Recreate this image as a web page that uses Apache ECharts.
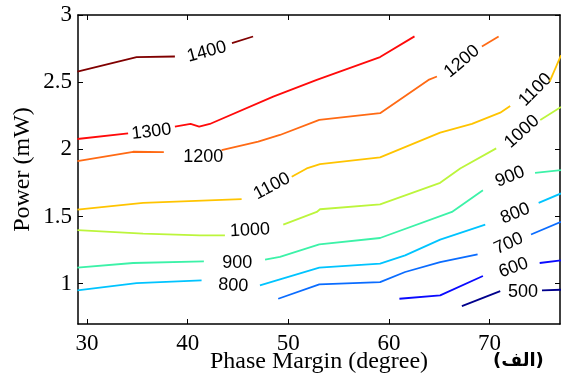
<!DOCTYPE html>
<html>
<head>
<meta charset="utf-8">
<script src="https://cdn.jsdelivr.net/npm/echarts@6/dist/echarts.min.js"></script>
<style>html,body{margin:0;padding:0;background:#fff}#c{width:561px;height:374px}</style>
</head>
<body>
<div id="c"></div>
<script>
// Contour levels and colours
var levels = [500, 600, 700, 800, 900, 1000, 1100, 1200, 1300, 1400];
var levelColors = ['#00008c', '#0a0aff', '#0a6cff', '#00c4ff', '#3cf2a8', '#bcf53c', '#ffc400', '#ff6a14', '#ff0a0a', '#800000'];

// Contour lines (x: phase margin, y: power); null = gap for inline label
var c500 = [[67.25,0.833],[71.06,0.945],null,[75.21,0.950],[77.1,0.955]];
var c600 = [[61.04,0.888],[65.09,0.913],[69.34,1.057],null,[74.98,1.154],[77.1,1.174]];
var c700 = [[49.0,0.888],[53.08,0.995],[59.12,1.012],[61.61,1.087],[65.09,1.161],[68.81,1.219],null,[74.12,1.366],[77.1,1.460]];
var c800 = [[29.04,0.950],[34.92,1.004],[41.38,1.025],null,[47.18,0.987],[49.17,1.032],[53.08,1.119],[59.12,1.149],[61.61,1.211],[65.09,1.328],[69.57,1.440],null,[74.88,1.601],[77.1,1.672]];
var c900 = [[29.04,1.119],[34.58,1.154],[41.61,1.166],null,[47.69,1.179],[49.17,1.199],[53.08,1.293],[59.12,1.340],[66.26,1.534],[69.34,1.696],null,[74.52,1.825],[77.1,1.846]];
var c1000 = [[29.04,1.398],[35.57,1.373],[41.21,1.360],[43.7,1.360],null,[49.5,1.440],[52.83,1.534],[53.15,1.554],[59.12,1.590],[65.09,1.751],[67.08,1.858],[70.66,2.007],null,[75.04,2.219],[77.1,2.315]];
var c1100 = [[29.04,1.552],[35.57,1.601],[45.36,1.629],null,[50.34,1.796],[51.83,1.858],[53.15,1.890],[59.12,1.940],[65.09,2.124],[68.25,2.189],[71.06,2.273],[72.05,2.323],null,[75.97,2.504],[77.1,2.700]];
var c1200 = [[29.04,1.913],[34.58,1.982],[37.63,1.980],null,[43.37,1.995],[47.01,2.057],[49.17,2.107],[53.08,2.219],[59.12,2.269],[63.93,2.517],[64.77,2.542],null,[69.24,2.766],[70.9,2.840]];
var c1300 = [[29.04,2.077],[34.08,2.119],null,[38.73,2.169],[40.29,2.189],[41.14,2.169],[42.2,2.189],[48.5,2.393],[52.83,2.517],[59.12,2.687],[62.54,2.841]];
var c1400 = [[29.04,2.579],[34.92,2.687],[38.73,2.691],null,[44.4,2.790],[46.5,2.840]];
var contours = [c500, c600, c700, c800, c900, c1000, c1100, c1200, c1300, c1400];

// Inline contour labels: [x, y, text]
var labelPoints = [
  [73.32,0.937,'500'],
  [72.39,1.119,'600'],
  [71.90,1.299,'700'],
  [44.53,0.987,'800'],
  [72.56,1.522,'800'],
  [44.93,1.157,'900'],
  [72.03,1.796,'900'],
  [46.20,1.398,'1000'],
  [73.22,2.131,'1000'],
  [48.38,1.726,'1100'],
  [74.55,2.443,'1100'],
  [41.54,1.945,'1200'],
  [67.25,2.654,'1200'],
  [36.40,2.131,'1300'],
  [41.90,2.726,'1400']
];
var labelAngles = [0, 20, 25, -3, 22, 0, 22, 3, 42, 28, 45, 0, 40, 7, 15];

var xTicks = [30, 40, 50, 60, 70];
var yTicks = [1, 1.5, 2, 2.5, 3];

var series = [];
contours.forEach(function (pts, i) {
  var seg = [];
  var flush = function () {
    if (seg.length > 1) {
      series.push({
        type: 'line', data: seg, showSymbol: false, symbol: 'none',
        lineStyle: { color: levelColors[i], width: 1.8 }, animation: false, silent: true
      });
    }
    seg = [];
  };
  pts.forEach(function (p) { if (p === null) flush(); else seg.push(p); });
  flush();
});
labelPoints.forEach(function (lp, k) {
  series.push({
    type: 'scatter', data: [[lp[0], lp[1]]], symbolSize: 0, animation: false, silent: true,
    itemStyle: { opacity: 1, color: '#000' },
    label: {
      show: true, position: 'inside', formatter: lp[2], rotate: labelAngles[k],
      color: '#000', opacity: 1, fontSize: 18, fontFamily: 'Liberation Sans',
      textBorderWidth: 0, textShadowBlur: 0
    }
  });
});

var tickFont = { color: '#000', fontSize: 23, fontFamily: 'Liberation Serif' };
var axisLine = { show: true, lineStyle: { color: '#000', width: 1.5 } };

var chart = echarts.init(document.getElementById('c'), null, { renderer: 'canvas' });
chart.setOption({
  backgroundColor: '#fff',
  animation: false,
  grid: { left: 78, right: 1, top: 15, bottom: 50, containLabel: false, outerBoundsMode: 'none' },
  xAxis: [{
    type: 'value', min: 29.1, max: 77, position: 'bottom',
    name: 'Phase Margin (degree)', nameLocation: 'middle', nameGap: 26, nameMoveOverlap: false,
    nameTextStyle: { color: '#000', fontSize: 24, fontFamily: 'Liberation Serif' },
    axisLine: axisLine,
    axisTick: { show: true, inside: true, length: 5, customValues: xTicks, lineStyle: { color: '#000' } },
    axisLabel: Object.assign({ customValues: xTicks, margin: 8 }, tickFont),
    splitLine: { show: false }
  }, {
    type: 'value', min: 29.1, max: 77, position: 'top',
    axisLine: axisLine,
    axisTick: { show: true, inside: true, length: 5, customValues: xTicks, lineStyle: { color: '#000' } },
    axisLabel: { show: false }, splitLine: { show: false }
  }],
  yAxis: [{
    type: 'value', min: 0.7, max: 3, position: 'left',
    name: 'Power (mW)', nameLocation: 'middle', nameGap: 43, nameMoveOverlap: false,
    nameTextStyle: { color: '#000', fontSize: 24, fontFamily: 'Liberation Serif' },
    axisLine: axisLine,
    axisTick: { show: true, inside: true, length: 5, customValues: yTicks, lineStyle: { color: '#000' } },
    axisLabel: Object.assign({ customValues: yTicks, margin: 6 }, tickFont),
    splitLine: { show: false }
  }, {
    type: 'value', min: 0.7, max: 3, position: 'right',
    axisLine: axisLine,
    axisTick: { show: true, inside: true, length: 5, customValues: yTicks, lineStyle: { color: '#000' } },
    axisLabel: { show: false }, splitLine: { show: false }
  }],
  graphic: [{
    type: 'text', left: 493, top: 352,
    style: { text: '(الف)', fill: '#000', fontSize: 18, fontWeight: 'bold', fontFamily: 'DejaVu Sans' }
  }],
  series: series
});
</script>
</body>
</html>
